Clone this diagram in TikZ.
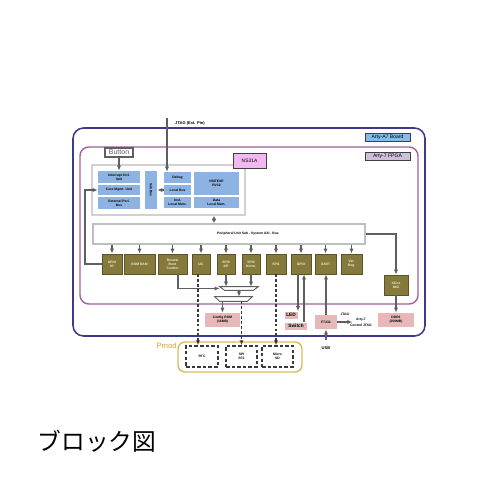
\documentclass[tikz,border=0pt]{standalone}
\usepackage{fontspec}
\setmainfont{Liberation Sans}
\newfontfamily\jp{Noto Sans CJK JP}
\usetikzlibrary{arrows.meta}

\definecolor{gris}{HTML}{5F5F5F}
\definecolor{grisfonce}{HTML}{3A3A3A}
\definecolor{bordcarte}{HTML}{3E3A8A}
\definecolor{bordfpga}{HTML}{A0609E}
\definecolor{bleubloc}{HTML}{8DB3E2}
\definecolor{bleuetiq}{HTML}{86BCE8}
\definecolor{mauve}{HTML}{CCC0DA}
\definecolor{rosens}{HTML}{F2B8F0}
\definecolor{rosebloc}{HTML}{E6B9B8}
\definecolor{olivebloc}{HTML}{857A3C}
\definecolor{olivebord}{HTML}{5C5428}
\definecolor{olivetexte}{HTML}{F2EDD6}
\definecolor{orpmod}{HTML}{D9BC5E}
\definecolor{orangepmod}{HTML}{E39A2E}

\begin{document}
\begin{tikzpicture}[x=0.02cm,y=-0.02cm]
% Styles
\def\pas{0.02cm}
\tikzset{dim/.style 2 args={minimum width=#1*\pas,minimum height=#2*\pas}}
\tikzstyle{petit}=[font=\fontsize{1.9}{2.2}\selectfont\bfseries]
\tikzstyle{fleche}=[-{Latex[length=2.8pt,width=2.4pt]},line width=0.6pt,draw=gris]
\tikzstyle{double}=[{Latex[length=2.8pt,width=2.4pt]}-{Latex[length=2.8pt,width=2.4pt]},line width=0.6pt,draw=gris]
\tikzstyle{pointille}=[fleche,draw=grisfonce,dash pattern=on 1.6pt off 1.2pt]
\tikzstyle{carte}=[draw=bordcarte,line width=0.9pt,rounded corners=6pt,inner sep=0]
\tikzstyle{fpga}=[draw=bordfpga,line width=0.8pt,rounded corners=5pt,inner sep=0]
\tikzstyle{etiquette}=[draw=black!75,line width=0.5pt,inner sep=0,font=\fontsize{2.9}{3.2}\selectfont]
\tikzstyle{panneau}=[draw=black!18,line width=0.6pt,fill=white,inner sep=0]
\tikzstyle{bouton}=[draw=gris,line width=0.6pt,fill=white,inner sep=0,text=gris,font=\fontsize{4}{4.5}\selectfont]
\tikzstyle{bleu}=[petit,fill=bleubloc,inner sep=0,align=center]
\tikzstyle{olive}=[petit,fill=olivebloc,draw=olivebord,line width=0.5pt,text=olivetexte,inner sep=0,align=center]
\tikzstyle{rose}=[petit,fill=rosebloc,inner sep=0,align=center]
\tikzstyle{mux}=[inner sep=0]
\tikzstyle{trapeze}=[draw=gris,line width=0.5pt,fill=white]
\tikzstyle{pmod}=[petit,draw=grisfonce,line width=0.9pt,dash pattern=on 2pt off 1.2pt,inner sep=0,align=center]
% Dimensions
\useasboundingbox (0,0) rectangle (500,500);
% Cadres
\node[carte,dim={352}{208}] (carte) at (249,232) {};
\node[fpga,dim={338}{157}] (fpga) at (249,225.5) {};
\node[etiquette,fill=bleuetiq,dim={45}{8}] (lblcarte) at (387.5,137) {Arty-A7 Board};
\node[etiquette,fill=mauve,dim={45}{8}] (lblfpga) at (387.5,156) {Arty-7 FPGA};
% Coeur NS31A
\node[panneau,dim={153}{50}] (panneau) at (168.5,190) {};
\node[etiquette,fill=rosens,dim={33}{15},font=\fontsize{2.8}{3}\selectfont] (ns) at (249.5,160.5) {NS31A};
\node[bouton,dim={28}{9}] (bouton) at (119,152.5) {Button};
\node[bleu,dim={42}{12}] (intctrl) at (119,177) {Interrupt Ctrl.\\Unit};
\node[bleu,dim={42}{10}] (coremgmt) at (119,190) {Core Mgmt. Unit};
\node[bleu,dim={42}{12}] (extbus) at (119,203) {External Peri.\\Bus};
\node[bleu,dim={38}{12},rotate=-90] (subbus) at (151,190) {Sub Bus};
\node[bleu,dim={27}{11}] (debug) at (177.5,177.5) {Debug};
\node[bleu,dim={27}{10}] (localbus) at (177.5,190) {Local Bus};
\node[bleu,dim={27}{11}] (instmem) at (177.5,202.5) {Inst.\\Local Mem.};
\node[bleu,dim={45}{23}] (rv) at (216.5,183.5) {NSITEXE\\RV32};
\node[bleu,dim={45}{11}] (datamem) at (216.5,202.5) {Data\\Local Mem.};
% JTAG externe
\coordinate (jtag) at (167,118);
\node[petit,font=\fontsize{2.3}{2.6}\selectfont\bfseries,anchor=west] (lbljtag) at (169,123) {JTAG (Ext. Pin)};
\draw[fleche] (jtag) -- (jtag |- debug.north);
\draw[fleche] (bouton) -- (intctrl);
\draw[fleche] (localbus.west) -- (localbus.west -| subbus.north);
% Bus AXI
\node[panneau,dim={272}{20},draw=black!25] (bus) at (229,234) {};
\node[petit] (lblbus) at (248,234) {Peripheral Unit Sub - System AXI - Bus};
\coordinate (axi) at (214,0);
\draw[double] (panneau.south -| axi) -- (bus.north -| axi);
% Périphériques
\node[olive,dim={20}{20}] (gpioio) at (112,264) {GPIO\\IO};
\node[olive,dim={31}{20}] (romram) at (139.5,264) {ROM RAM};
\node[olive,dim={29}{20}] (reset) at (172.5,264) {Reset\&\\Boot\\Control};
\node[olive,dim={18}{20}] (i2c) at (201,264) {I2C};
\node[olive,dim={18}{20}] (spixip) at (226,264) {SPI0\\XIP};
\node[olive,dim={18}{20}] (spinorm) at (251,264) {SPI0\\Norm.};
\node[olive,dim={20}{20}] (spi1) at (276,264) {SPI1};
\node[olive,dim={20}{20}] (gpio) at (301,264) {GPIO};
\node[olive,dim={21}{20}] (uart) at (325.5,264) {UART};
\node[olive,dim={21}{20}] (verreg) at (351.5,264) {Ver.\\Reg.};
\node[olive,dim={24}{20}] (mig) at (396,285) {Xilinx\\MIG};
\foreach \b in {gpioio,romram,reset,i2c,spixip,spinorm,spi1,gpio,uart,verreg}
  \draw[fleche] (bus.south -| \b) -- (\b.north);
\draw[fleche] (bus.east) -| (mig.north);
% Retour interruption
\coordinate (retour) at (85,0);
\draw[fleche] (gpioio.west) -- (gpioio.west -| retour) -- (retour |- coremgmt.west) -- (coremgmt.west);
% Sélecteurs SPI
\node[mux,dim={38}{3}] (mux1) at (239,288.5) {};
\node[mux,dim={37}{4}] (mux2) at (233.5,299) {};
\foreach \m in {mux1,mux2}
  \draw[trapeze] (\m.north west) -- (\m.north east) -- ([xshift=-5*\pas]\m.south east) -- ([xshift=5*\pas]\m.south west) -- cycle;
\coordinate (sel) at (178,0);
\draw[fleche] (reset.south -| sel) |- (mux1.west);
\draw[fleche] (spixip) -- (spixip |- mux1.north);
\draw[fleche] (spinorm) -- (spinorm |- mux1.north);
\draw[fleche] (mux1.south) -- (mux1.south |- mux2.north);
% Externe
\node[rose,dim={35}{14}] (rom) at (222.5,320) {Config ROM\\(16MB)};
\node[rose,dim={36}{14}] (ddr) at (396,320) {DDR3\\(256MB)};
\node[rose,dim={13}{7},font=\fontsize{2.7}{3}\selectfont\bfseries] (led) at (291,315) {LED};
\node[rose,dim={22}{7},font=\fontsize{2.7}{3}\selectfont\bfseries] (switch) at (296,326) {Switch};
\node[rose,dim={22}{14}] (ft) at (326,322) {FT232};
\node[petit,font=\fontsize{2.3}{2.6}\selectfont\bfseries] (usb) at (326,348) {USB};
\node[petit] (arty) at (361,320) {Arty-7};
\node[petit] (ctrljtag) at (361,325.5) {Control JTAG};
\draw[fleche] (mux2.south -| rom) -- (rom.north);
\draw[fleche] (mig) -- (ddr);
\draw[fleche] ([xshift=-3*\pas]gpio.south) -- ([xshift=-3*\pas]gpio.south |- led.north);
\draw[fleche] ([xshift=3*\pas]gpio.south |- switch.north) -- ([xshift=3*\pas]gpio.south);
\draw[fleche] (ft) -- (ft |- uart.south);
\draw[fleche] (usb) -- (ft);
\draw[fleche] (ft.east) -- node[petit,above=0.3pt] (lbljtag2) {JTAG} ++(15,0);
% Pmod
\node[draw=orpmod,line width=0.8pt,rounded corners=4pt,inner sep=0,dim={124}{30}] (pmod) at (240,357) {};
\node[text=orangepmod,font=\fontsize{4.4}{4.6}\selectfont,anchor=east,inner sep=0] (lblpmod) at (177,346) {Pmod};
\node[pmod,dim={32}{21}] (rtc) at (202,356.5) {RTC};
\node[pmod,dim={31}{21}] (sf3) at (241.5,356.5) {SPI\\SF3};
\node[pmod,dim={31}{21}] (sd) at (277.5,356.5) {Micro\\SD};
\draw[pointille] (i2c.south -| 198,0) -- (198,0 |- rtc.north);
\draw[pointille] (mux2.south -| sf3) -- (sf3.north);
\draw[pointille] (spi1) -- (spi1 |- sd.north);
% Titre
\node[font=\jp\fontsize{13.5}{14}\selectfont] (titre) at (97,441) {ブロック図};
\end{tikzpicture}
\end{document}
